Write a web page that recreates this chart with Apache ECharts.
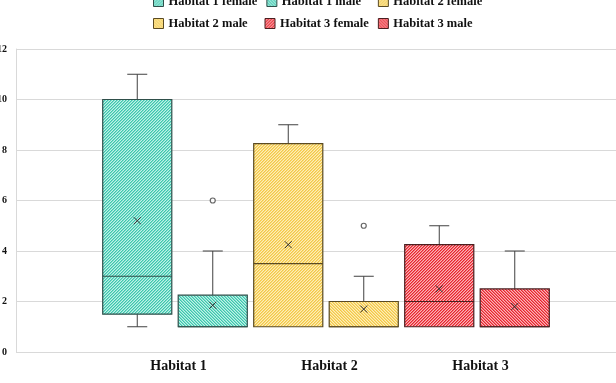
<!DOCTYPE html>
<html><head><meta charset="utf-8">
<script src="https://cdn.jsdelivr.net/npm/echarts@6/dist/echarts.min.js"></script>
<style>html,body{margin:0;padding:0;background:#fff}#c{width:616px;height:383px}</style>
</head><body><div id="c"></div>
<script>
// ---- data ----
const categories = ['Habitat 1', 'Habitat 2', 'Habitat 3'];
const seriesNames = ['Habitat 1 female', 'Habitat 1 male', 'Habitat 2 female', 'Habitat 2 male', 'Habitat 3 female', 'Habitat 3 male'];
const mins    = [1,   1,    1,    1, 1,    1];
const q1s     = [1.5, 1,    1,    1, 1,    1];
const medians = [3,   1,    3.5,  1, 2,    1];
const q3s     = [10,  2.25, 8.25, 2, 4.25, 2.5];
const maxs    = [11,  4,    9,    3, 5,    4];
const means   = [5.2, 1.85, 4.25, 1.7, 2.5, 1.8];
const outliers = [[], [6], [], [5], [], []];
const yTicks = [0, 2, 4, 6, 8, 10, 12];

// ---- styles ----
const stripeCols = ['#3cc6ac', '#3cc6ac', '#f3c847', '#f3c847', '#e8242e', '#e8242e'];
const midCols    = ['#7ddccb', '#7ddccb', '#f8d97a', '#f8d97a', '#f06a70', '#f06a70'];
const bgCols     = ['#bff2e8', '#bff2e8', '#fdeeb8', '#fdeeb8', '#fbb3b6', '#fbb3b6'];
const borderCols = ['#2f4f4a', '#2f4f4a', '#5a4a22', '#5a4a22', '#4a1f20', '#4a1f20'];
const dirs = [1, -1, 1, -1, 1, -1];

function makePattern(stripe, mid, bg, dir) {
  const c = document.createElement('canvas');
  c.width = 3; c.height = 3;
  const ctx = c.getContext('2d');
  for (let x = 0; x < 3; x++) for (let y = 0; y < 3; y++) {
    const k = dir > 0 ? (x + y) % 3 : (((x - y) % 3) + 3) % 3;
    ctx.fillStyle = k === 0 ? stripe : (k === 1 ? mid : bg);
    ctx.fillRect(x, y, 1, 1);
  }
  return c;
}
const patterns = seriesNames.map((n, i) => ({ image: makePattern(stripeCols[i], midCols[i], bgCols[i], dirs[i]), repeat: 'repeat' }));

const lineCol = '#404040';
const serif = 'Liberation Serif';

function renderBox(params, api) {
  const si = params.seriesIndex;
  const idx = api.value(0);
  const vMin = api.value(1), vQ1 = api.value(2), vMed = api.value(3), vQ3 = api.value(4), vMax = api.value(5), vMean = api.value(6);
  const xc = api.coord([idx, 0])[0];
  const bw = api.size([1, 0])[0] * 0.915;
  const capW = 20;
  const y = v => api.coord([idx, v])[1];
  const children = [];
  const ls = { stroke: lineCol, lineWidth: 1 };
  if (vMax > vQ3) {
    children.push({ type: 'line', shape: { x1: xc, y1: y(vQ3), x2: xc, y2: y(vMax) }, style: ls });
    children.push({ type: 'line', shape: { x1: xc - capW / 2, y1: y(vMax), x2: xc + capW / 2, y2: y(vMax) }, style: ls });
  }
  if (vMin < vQ1) {
    children.push({ type: 'line', shape: { x1: xc, y1: y(vQ1), x2: xc, y2: y(vMin) }, style: ls });
    children.push({ type: 'line', shape: { x1: xc - capW / 2, y1: y(vMin), x2: xc + capW / 2, y2: y(vMin) }, style: ls });
  }
  children.push({
    type: 'rect',
    shape: { x: xc - bw / 2, y: y(vQ3), width: bw, height: y(vQ1) - y(vQ3) },
    style: { fill: patterns[si], stroke: borderCols[si], lineWidth: 1.2 }
  });
  children.push({ type: 'line', shape: { x1: xc - bw / 2, y1: y(vMed), x2: xc + bw / 2, y2: y(vMed) }, style: { stroke: borderCols[si], lineWidth: 1.2 } });
  const ym = y(vMean), d = 3.5;
  children.push({ type: 'line', shape: { x1: xc - d, y1: ym - d, x2: xc + d, y2: ym + d }, style: { stroke: '#333', lineWidth: 1 } });
  children.push({ type: 'line', shape: { x1: xc - d, y1: ym + d, x2: xc + d, y2: ym - d }, style: { stroke: '#333', lineWidth: 1 } });
  return { type: 'group', children: children };
}

const series = [];
seriesNames.forEach((name, i) => {
  series.push({
    name: name,
    type: 'custom',
    xAxisIndex: 1, yAxisIndex: 1,
    renderItem: renderBox,
    itemStyle: { color: patterns[i], borderColor: borderCols[i], borderWidth: 1 },
    encode: { x: 0, y: [1, 2, 3, 4, 5, 6] },
    data: [[i, mins[i], q1s[i], medians[i], q3s[i], maxs[i], means[i]]],
    silent: true
  });
});
series.push({
  name: 'outliers',
  type: 'scatter',
  xAxisIndex: 1, yAxisIndex: 1,
  symbol: 'circle', symbolSize: 5,
  itemStyle: { color: '#fff', borderColor: lineCol, borderWidth: 1.2 },
  data: outliers.flatMap((arr, i) => arr.map(v => [i, v])),
  silent: true, z: 5
});

const chart = echarts.init(document.getElementById('c'), null, { renderer: 'canvas' });
chart.setOption({
  animation: false,
  backgroundColor: '#fff',
  legend: {
    data: seriesNames.map((n, i) => ({ name: n, itemStyle: { color: patterns[i], borderColor: borderCols[i], borderWidth: 1 } })),
    icon: 'rect',
    itemWidth: 10, itemHeight: 10,
    itemGap: 9,
    left: 148, top: -10, width: 340,
    selectedMode: false,
    formatter: '{a|{name}}',
    textStyle: {
      rich: { a: { width: 87, fontFamily: serif, fontWeight: 'bold', fontSize: 12.5, color: '#111', lineHeight: 17 } }
    }
  },
  grid: [
    { left: 16, right: 0, top: 49, bottom: 31, outerBoundsMode: 'none', containLabel: false },
    { left: 99.5, width: 453, top: 49, bottom: 31, outerBoundsMode: 'none', containLabel: false },
    { left: 103, width: 453, top: 49, bottom: 31, outerBoundsMode: 'none', containLabel: false }
  ],
  xAxis: [
    { gridIndex: 0, type: 'category', data: [''], show: false },
    { gridIndex: 1, type: 'category', data: seriesNames, show: false, position: 'top' },
    {
      gridIndex: 2, type: 'category', data: categories, position: 'bottom',
      axisLine: { show: false }, axisTick: { show: false },
      axisLabel: { fontFamily: serif, fontWeight: 'bold', fontSize: 14, color: '#111', margin: 7 }
    }
  ],
  yAxis: [
    {
      gridIndex: 0, type: 'value', min: yTicks[0], max: yTicks[yTicks.length - 1], interval: 2,
      axisLine: { show: true, lineStyle: { color: '#d9d9d9' } }, axisTick: { show: false },
      splitLine: { lineStyle: { color: '#d9d9d9', width: 1 } },
      axisLabel: { fontFamily: serif, fontWeight: 'bold', fontSize: 10, color: '#111', margin: 9 }
    },
    { gridIndex: 1, type: 'value', min: 0, max: 12, interval: 2, show: false },
    { gridIndex: 2, type: 'value', min: 0, max: 12, interval: 2, show: false }
  ],
  series: series
});
</script>
</body></html>
